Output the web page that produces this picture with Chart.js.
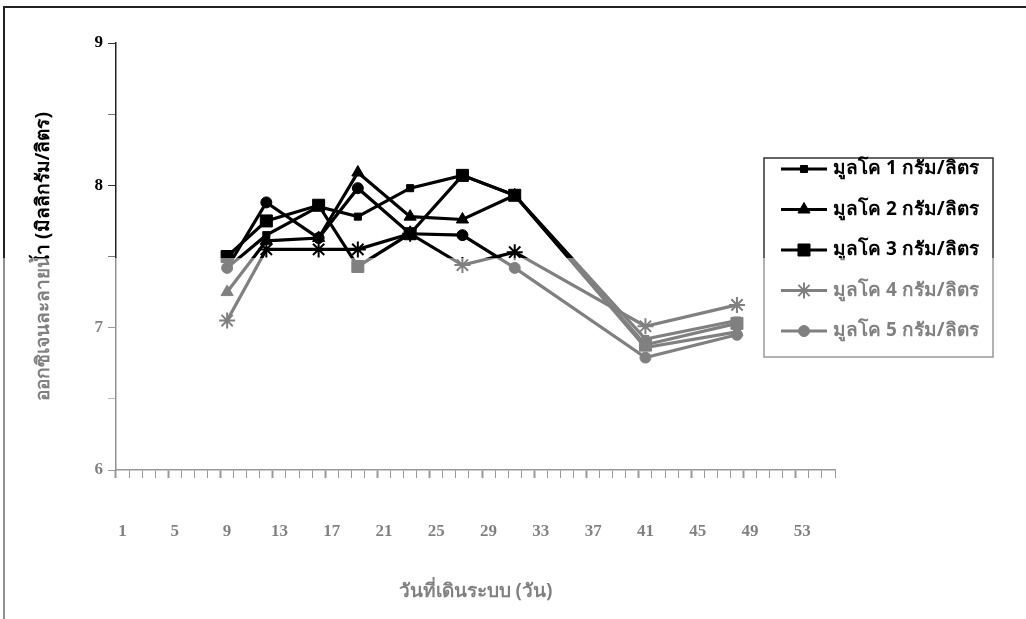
<!DOCTYPE html>
<html>
<head>
<meta charset="utf-8">
<script src="https://cdn.jsdelivr.net/npm/chart.js@4.4.1/dist/chart.umd.min.js"></script>
<style>
  body { margin: 0; background: #fff; }
  #wrap { width: 1026px; height: 619px; }
</style>
</head>
<body>
<div id="wrap"><canvas id="line-chart" width="1026" height="619"></canvas></div>
<script>
// days the samples were taken, and dissolved oxygen per series (mg/l)
var days = [9, 12, 16, 19, 23, 27, 31, 41, 48];
var cow1 = [7.42, 7.65, 7.85, 7.78, 7.98, 8.07, 7.93, 6.92, 7.05];
var cow2 = [7.25, 7.61, 7.63, 8.09, 7.78, 7.76, 7.93, 6.86, 6.97];
var cow3 = [7.50, 7.75, 7.86, 7.43, 7.66, 8.07, 7.93, 6.88, 7.03];
var cow4 = [7.05, 7.55, 7.55, 7.55, 7.66, 7.44, 7.53, 7.01, 7.16];
var cow5 = [7.42, 7.88, 7.63, 7.98, 7.66, 7.65, 7.42, 6.79, 6.95];

var seriesNames = ["มูลโค 1 กรัม/ลิตร", "มูลโค 2 กรัม/ลิตร", "มูลโค 3 กรัม/ลิตร", "มูลโค 4 กรัม/ลิตร", "มูลโค 5 กรัม/ลิตร"];
var tickDays = [1, 5, 9, 13, 17, 21, 25, 29, 33, 37, 41, 45, 49, 53];
var lastDay = 55;

var thaiFont = 'Tahoma, "Noto Sans", "DejaVu Sans", sans-serif';
var numFont = '"Liberation Serif", "DejaVu Serif", serif';

var dayLabels = [];
for (var d = 1; d <= lastDay; d++) dayLabels.push(String(d));

function toPoints(vals) {
    return days.map(function (day, i) { return { x: String(day), y: vals[i] }; });
}

var styles = [
    { pointStyle: 'rect', radius: 5 },
    { pointStyle: 'triangle', radius: 7 },
    { pointStyle: 'rect', radius: 8.5 },
    { pointStyle: 'star', radius: 8 },
    { pointStyle: 'circle', radius: 5.5 }
];

var allVals = [cow1, cow2, cow3, cow4, cow5];
var datasets = allVals.map(function (vals, i) {
    return {
        label: seriesNames[i],
        data: toPoints(vals),
        borderColor: '#000',
        backgroundColor: '#000',
        borderWidth: 3.2,
        pointStyle: styles[i].pointStyle,
        pointRadius: styles[i].radius,
        pointBorderWidth: i == 3 ? 2 : 1,
        pointBackgroundColor: '#000',
        pointBorderColor: '#000',
        tension: 0
    };
});

// page frame, hand drawn legend and the grey wash of the scan
var scanPlugin = {
    id: 'scan',
    beforeDraw: function (chart) {
        var ctx = chart.ctx;
        ctx.save();
        ctx.fillStyle = '#fff';
        ctx.fillRect(0, 0, chart.width, chart.height);
        ctx.strokeStyle = '#222';
        ctx.lineWidth = 2;
        ctx.beginPath();
        ctx.moveTo(4, chart.height);
        ctx.lineTo(4, 7);
        ctx.lineTo(chart.width, 7);
        ctx.stroke();
        ctx.restore();
    },
    afterDraw: function (chart) {
        var ctx = chart.ctx;
        ctx.save();
        // legend
        var bx = 764, by = 158, bw = 229, bh = 199;
        ctx.fillStyle = '#fff';
        ctx.fillRect(bx, by, bw, bh);
        ctx.strokeStyle = '#333';
        ctx.lineWidth = 1.5;
        ctx.strokeRect(bx, by, bw, bh);
        ctx.font = 'bold 19px ' + thaiFont;
        ctx.textBaseline = 'middle';
        for (var i = 0; i < seriesNames.length; i++) {
            var y = 169 + i * 40.5;
            ctx.strokeStyle = '#000';
            ctx.fillStyle = '#000';
            ctx.lineWidth = 3.2;
            ctx.beginPath();
            ctx.moveTo(781, y);
            ctx.lineTo(827, y);
            ctx.stroke();
            ctx.lineWidth = i == 3 ? 2 : 1;
            Chart.helpers.drawPoint(ctx, { pointStyle: styles[i].pointStyle, radius: styles[i].radius, rotation: 0, borderWidth: ctx.lineWidth }, 804, y);
            ctx.fillText(seriesNames[i], 833, y);
        }
        // lower part of the scan came out grey
        ctx.fillStyle = 'rgba(255,255,255,0.5)';
        ctx.fillRect(0, 258, chart.width, chart.height - 258);
        ctx.restore();
    }
};

var config = {
    type: 'line',
    data: { labels: dayLabels, datasets: datasets },
    options: {
        responsive: false,
        animation: false,
        layout: { padding: { left: 28, right: 191, top: 43, bottom: 12 } },
        plugins: {
            legend: { display: false },
            tooltip: { enabled: false }
        },
        scales: {
            x: {
                type: 'category',
                offset: true,
                afterFit: function (scale) { scale.height = 619 - 12 - 470; },
                grid: {
                    offset: true,
                    drawOnChartArea: false,
                    tickLength: 8,
                    tickColor: '#333',
                    tickWidth: function (c) { return c.index % 4 === 0 ? 2 : 1; }
                },
                border: { color: '#333', width: 1.5 },
                ticks: {
                    autoSkip: false,
                    maxRotation: 0,
                    padding: 43,
                    color: '#000',
                    font: { family: numFont, size: 17, weight: 'bold' },
                    callback: function (v, i) {
                        var lab = dayLabels[i];
                        return tickDays.indexOf(Number(lab)) >= 0 ? lab : '';
                    }
                },
                title: {
                    display: true,
                    text: 'วันที่เดินระบบ (วัน)',
                    color: '#000',
                    font: { family: thaiFont, size: 19, weight: 'bold' },
                    padding: { top: 4, bottom: 4 }
                }
            },
            y: {
                min: 6,
                max: 9,
                afterFit: function (scale) { scale.width = 88; },
                grid: {
                    drawOnChartArea: false,
                    tickLength: 8,
                    tickColor: function (c) { return c.tick && Number.isInteger(c.tick.value) ? '#333' : '#777'; }
                },
                border: { color: '#222', width: 1.5 },
                ticks: {
                    stepSize: 0.5,
                    padding: 5,
                    color: '#000',
                    font: { family: numFont, size: 17, weight: 'bold' },
                    callback: function (v) { return Number.isInteger(v) ? v : ''; }
                },
                title: {
                    display: true,
                    text: 'ออกซิเจนละลายน้ำ (มิลลิกรัม/ลิตร)',
                    color: '#000',
                    font: { family: thaiFont, size: 19, weight: 'bold' },
                    padding: { top: 4, bottom: 4 }
                }
            }
        }
    },
    plugins: [scanPlugin]
};

var myChart = new Chart(document.getElementById('line-chart'), config);
</script>
</body>
</html>
